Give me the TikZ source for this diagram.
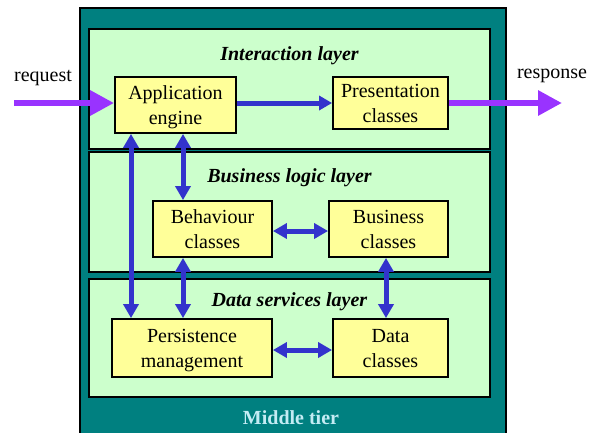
\documentclass[tikz,border=0pt]{standalone}
\usepackage{fontspec}
\newfontfamily\tiersf{LiberationSerif}[Extension=.ttf, UprightFont=*-Regular, BoldFont=*-Bold, ItalicFont=*-Italic, BoldItalicFont=*-BoldItalic]
\usetikzlibrary{arrows.meta}
\definecolor{tierteal}{HTML}{008080}
\definecolor{layergreen}{HTML}{CCFFCC}
\definecolor{classyellow}{HTML}{FFFF99}
\definecolor{flowblue}{HTML}{3333CC}
\definecolor{iopurple}{HTML}{9933FF}
\definecolor{tiertext}{HTML}{C4ECF4}
\tikzset{
  txt/.style={font=\tiersf\fontsize{20}{25}\selectfont},
  title/.style={font=\tiersf\fontsize{20}{25}\selectfont\bfseries\itshape},
  layer/.style={draw, line width=1.8pt, fill=layergreen, minimum width=401pt, inner sep=0pt},
  cls/.style={txt, draw, line width=1.8pt, fill=classyellow, align=center, inner sep=0pt, text depth=0pt},
  link/.style={flowblue, line width=5pt, -{Triangle[length=13pt,width=14pt]}},
  dlink/.style={flowblue, line width=5pt, {Triangle[length=14pt,width=15pt]}-{Triangle[length=14pt,width=15pt]}},
  io/.style={iopurple, line width=6pt, -{Triangle[length=24pt,width=24pt]}}
}
\begin{document}
\begin{tikzpicture}[x=1pt,y=-1pt]
\useasboundingbox (0,0) rectangle (603,432);
\clip (0,0) rectangle (603,432);

\draw[fill=tierteal, line width=1.8pt] (80,8) rectangle (506,445);
\node[font=\tiersf\fontsize{20}{25}\selectfont\bfseries, text=tiertext] (tier) at (291,418) {Middle tier};

\node[layer, minimum height=120pt] (inter) at (289.5,89) {};
\node[layer, minimum height=120pt] (logic) at (289.5,212) {};
\node[layer, minimum height=118pt] (serv) at (289.5,338) {};
\node[title] (intertitle) at ([yshift=-28pt]inter.north) {Interaction layer};
\node[title] (logictitle) at ([yshift=-27pt]logic.north) {Business logic layer};
\node[title] (servtitle) at ([yshift=-24pt]serv.north) {Data services layer};

\node[cls, minimum width=121pt, minimum height=56pt] (app) at (175.5,105) {Application\\engine};
\node[cls, minimum width=115pt, minimum height=52pt] (pres) at (390.5,103) {Presentation\\classes};
\node[cls, minimum width=119pt, minimum height=56pt] (behav) at (212.5,229) {Behaviour\\classes};
\node[cls, minimum width=119pt, minimum height=56pt] (buscls) at (388.5,229) {Business\\classes};
\node[cls, minimum width=160pt, minimum height=58pt] (pers) at (192,348) {Persistence\\management};
\node[cls, minimum width=115pt, minimum height=58pt] (datacls) at (390.5,348) {Data\\classes};

\node[txt] (req) at (43,78) {request};
\node[txt] (resp) at (552,76) {response};
\coordinate (reqstart) at (14,103);
\coordinate (respend) at (562,103);
\draw[io] (reqstart) -- (reqstart -| app.west);
\draw[io] (pres.east) -- (respend);

\coordinate (c1) at (131,0);
\coordinate (c2) at (183,0);
\coordinate (c3) at (386,0);
\draw[link] (app.east |- pres.west) -- (pres.west);
\draw[dlink] (app.south -| c1) -- (pers.north -| c1);
\draw[dlink] (app.south -| c2) -- (behav.north -| c2);
\draw[dlink] (behav.south -| c2) -- (pers.north -| c2);
\draw[dlink] (buscls.south -| c3) -- (datacls.north -| c3);
\draw[dlink] ([yshift=-2pt]behav.east) -- ([yshift=-2pt]buscls.west);
\draw[dlink] ([yshift=-2pt]pers.east) -- ([yshift=-2pt]datacls.west);
\end{tikzpicture}
\end{document}
